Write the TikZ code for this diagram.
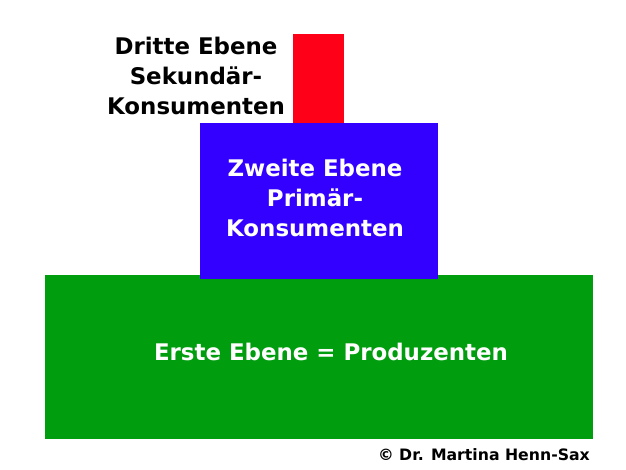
\documentclass[tikz,border=0pt]{standalone}
\usepackage{fontspec}
\setmainfont{DejaVu Sans}
\definecolor{ebeneRot}{RGB}{255,0,25}
\definecolor{ebeneBlau}{RGB}{51,0,255}
\definecolor{ebeneGruen}{RGB}{0,158,15}
\begin{document}
\begin{tikzpicture}[x=1pt,y=-1pt,
  ebene/.style={align=center, inner sep=0pt, font=\bfseries\fontsize{22.9}{30}\selectfont}]
%\draw[step=10pt,gray,very thin] (0,0) grid (626,469);
\useasboundingbox (0,0) rectangle (626,469);

\fill[ebeneGruen] (45,275) rectangle (593,439);
\fill[ebeneBlau] (200,123) rectangle (438,279);
\fill[ebeneRot] (293,34) rectangle (344,123);

\node[ebene, text=black] (dritte) at (196,76) {Dritte Ebene\\Sekundär-\\Konsumenten};
\node[ebene, text=white] (zweite) at (315,198) {Zweite Ebene\\Primär-\\Konsumenten};
\node[ebene, text=white] (erste) at (331,352) {Erste Ebene = Produzenten};

\node[anchor=east, inner sep=0pt, font=\bfseries\fontsize{15.7}{18}\selectfont] (copy) at (590,455) {© Dr. Martina Henn-Sax};

\end{tikzpicture}
\end{document}
